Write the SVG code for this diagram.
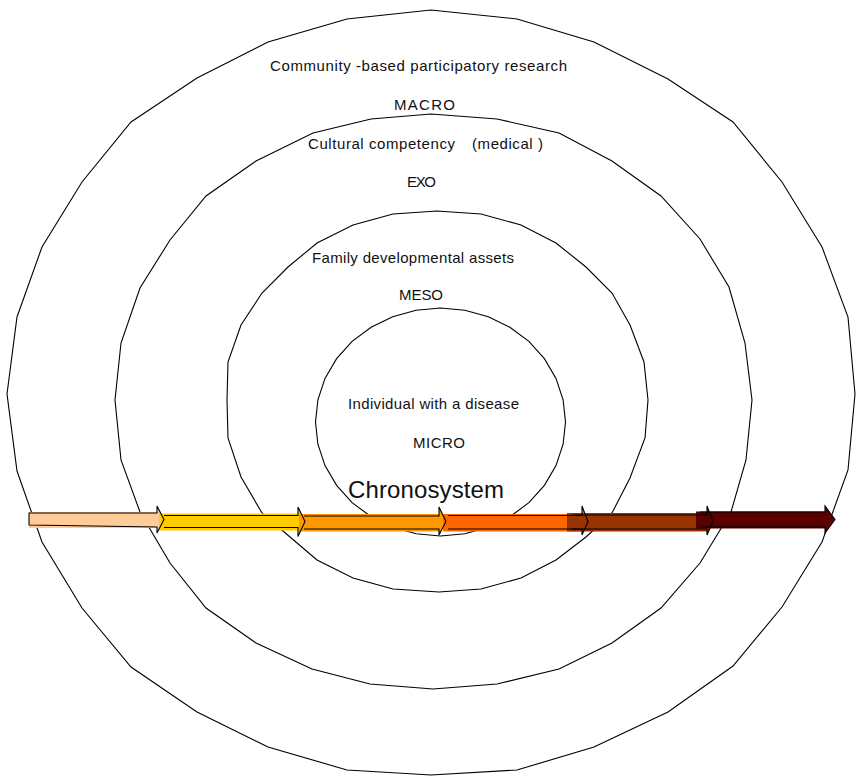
<svg xmlns="http://www.w3.org/2000/svg" width="856" height="776" viewBox="0 0 856 776">
  <style>
    .ring { fill: none; stroke: #000; stroke-width: 1.1; stroke-linejoin: miter; }
    .lbl { font-family: "Liberation Sans", Arial, sans-serif; font-size: 15px; fill: #111; }
    .big { font-family: "Liberation Sans", Arial, sans-serif; font-size: 24px; fill: #111; }
    .outline { fill: none; stroke: #000; stroke-width: 1.1; stroke-linejoin: miter; }
  </style>
  <rect x="0" y="0" width="856" height="776" fill="#fff"/>

  <g id="ring-macro">
    <polygon class="ring" points="431,10 517,19 594,42 668,79 733,122 782,182 822,247 848,317 855,394 848,470 822,542 782,607 733,666 668,712 594,747 517,770 431,775 347,770 268,747 197,712 131,667 82,608 42,542 17,471 7,394 17,317 42,247 82,182 131,122 197,78 268,42 347,19"/>
    <text class="lbl" x="270" y="70.5" textLength="297" lengthAdjust="spacing">Community -based participatory research</text>
    <text class="lbl" x="394" y="109.5" textLength="61" lengthAdjust="spacing">MACRO</text>
  </g>

  <g id="ring-exo">
    <polygon class="ring" points="431,114 497,119 559,133 612,161 661,196 700,239 729,287 745,343 752,400 746,460 731,512 700,563 661,608 612,643 559,669 497,684 433,689 370,684 312,669 256,643 206,608 170,563 140,512 121,460 115,400 121,343 140,288 170,240 206,196 256,161 313,133 371,119"/>
    <text class="lbl" y="149"><tspan x="308" textLength="147" lengthAdjust="spacing">Cultural competency</tspan><tspan x="472" textLength="71" lengthAdjust="spacing">(medical )</tspan></text>
    <text class="lbl" x="407" y="187" textLength="29" lengthAdjust="spacing">EXO</text>
  </g>

  <g id="ring-meso">
    <polygon class="ring" points="437,211 481,214 521,225 556,243 586,267 612,293 630,325 644,362 648,400 645,438 630,478 612,513 586,537 556,560 521,578 481,589 439,592 393,589 353,578 317,560 290,537 262,513 241,477 228,438 227,400 228,362 241,325 262,293 288,267 317,243 353,225 393,214"/>
    <text class="lbl" x="312" y="263" textLength="202" lengthAdjust="spacing">Family developmental assets</text>
    <text class="lbl" x="399" y="300" textLength="44" lengthAdjust="spacing">MESO</text>
  </g>

  <g id="ring-micro">
    <polygon class="ring" points="440.5,308 464.9,310.2 488.3,316.7 509.9,327.2 528.9,341.4 544.4,358.7 556,378.4 563.1,399.8 565.5,422 563.1,444.2 556,465.6 544.4,485.3 528.9,502.6 509.9,516.8 488.3,527.3 464.9,533.8 440.5,536 416.1,533.8 392.7,527.3 371.1,516.8 352.1,502.6 336.6,485.3 325,465.6 317.9,444.2 315.5,422 317.9,399.8 325,378.4 336.6,358.7 352.1,341.4 371.1,327.2 392.7,316.7 416.1,310.2"/>
    <text class="lbl" x="348" y="409" textLength="171" lengthAdjust="spacing">Individual with a disease</text>
    <text class="lbl" x="413" y="448" textLength="52" lengthAdjust="spacing">MICRO</text>
  </g>

  <g id="chronosystem">
    <text class="big" x="348" y="498" textLength="156" lengthAdjust="spacing">Chronosystem</text>
    <g id="arrow-fills">
      <rect x="29" y="512" width="130" height="16" fill="#FFCC99"/>
      <polygon fill="#FFCC99" points="29,513 157,513 157,506 164,519.5 157,533 157,527 29,525"/>
      <rect x="159" y="513.5" width="142" height="17" fill="#FFCC00"/>
      <polygon fill="#FFCC00" points="160,515.5 298,515.5 298,507 305,521.5 298,536.5 298,527.5 160,527.5"/>
      <rect x="299" y="514" width="142" height="17.5" fill="#FF9900"/>
      <polygon fill="#FF9900" points="300,516 439,516 439,507 446,521.5 439,535 439,529 300,529"/>
      <rect x="443" y="514" width="141" height="17.5" fill="#FF6600"/>
      <polygon fill="#FF6600" points="444,515.5 582,515.5 582,506 588,521.5 582,535 582,529 444,529"/>
      <rect x="567" y="513" width="142" height="18.5" fill="#993300"/>
      <polygon fill="#993300" points="568,515 707,515 707,506 713,521.5 707,535 707,529 568,529"/>
      <rect x="696" y="511.5" width="131" height="17" fill="#5A0000"/>
      <polygon fill="#5A0000" points="696,512 825,512 825,506 835,519.5 825,533 825,527 696,527"/>
    </g>
    <g id="arrow-outlines">
      <polygon class="outline" points="29,513 157,513 157,506 164,519.5 157,533 157,527 29,525"/>
      <polyline class="outline" points="164,515.5 298,515.5 298,507 305,521.5 298,536.5 298,527.5 164,527.5"/>
      <polyline class="outline" points="304,516 439,516 439,507 446,521.5 439,535 439,529 304,529"/>
      <polyline class="outline" points="448,515.5 582,515.5 582,506 588,521.5 582,535 582,529 448,529"/>
      <polyline class="outline" points="572,515 707,515 707,506 713,521.5 707,535 707,529 572,529"/>
      <polyline class="outline" points="700,512 825,512 825,506 835,519.5 825,533 825,527 700,527"/>
    </g>
  </g>
</svg>
